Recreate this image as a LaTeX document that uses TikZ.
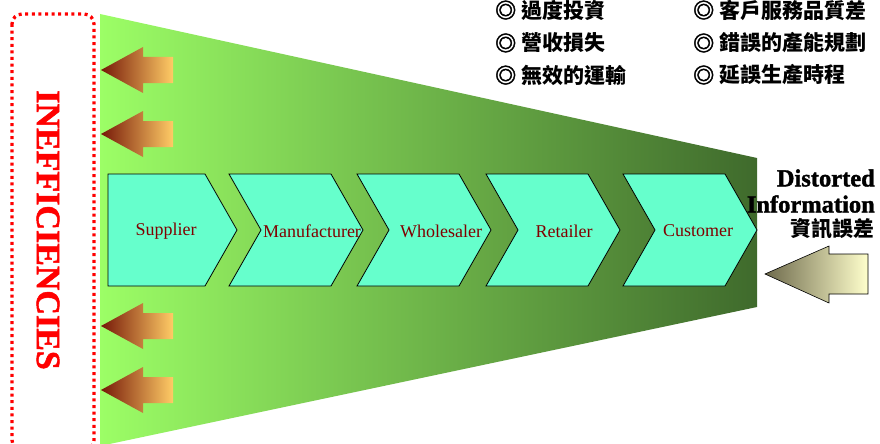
\documentclass[tikz,border=0pt]{standalone}
\usepackage{fontspec}
\setmainfont{Liberation Serif}
\newfontfamily\heavy{Liberation Serif Bold}[FakeBold=1.5]
\newfontfamily\cjk{Noto Sans CJK TC}
\newfontfamily\cjkheavy{Noto Sans CJK TC Bold}[FakeBold=2]
\definecolor{funL}{HTML}{9CFE66}
\definecolor{funR}{HTML}{3F6A2C}
\definecolor{chevfill}{HTML}{66FFCC}
\definecolor{lbl}{HTML}{800000}
\definecolor{orL}{HTML}{761808}
\definecolor{orR}{HTML}{FFCC66}
\definecolor{arL}{HTML}{6E6A4C}
\definecolor{arR}{HTML}{FFFFCC}
\newcommand\bul{{\cjkheavy ◎}}
\begin{document}
\begin{tikzpicture}[x=1pt,y=-1pt,
  chevbox/.style={draw=black,line width=0.8pt,fill=chevfill,line join=miter},
  chevlbl/.style={text=lbl,font=\fontsize{18}{20}\selectfont,inner sep=0pt},
  listitem/.style={anchor=west,inner sep=0pt,font=\cjk\bfseries\fontsize{21}{23}\selectfont},
  orarrow/.style={left color=orL,right color=orR},
  ]
\useasboundingbox (0,0) rectangle (880,444);
\fill[white] (0,0) rectangle (880,444);
% funnel
\shade[left color=funL,right color=funR] (100,14) -- (757,158) -- (757,307) -- (100,446) -- cycle;
% inefficiencies box
\draw[red,line width=3.3pt,dash pattern=on 3pt off 3.6pt,rounded corners=10pt] (12,14) rectangle (94,450);
\node[rotate=-90,text=red,font=\heavy\fontsize{34}{36}\selectfont,inner sep=0pt] (ineff) at (48,230) {INEFFICIENCIES};
% orange arrows
\foreach \yy/\nm in {70/a1,134/a2,326/a3,390/a4}{
  \shade[orarrow] (101,\yy) -- (143,\yy-23) -- (143,\yy-13) -- (173,\yy-13) -- (173,\yy+13) -- (143,\yy+13) -- (143,\yy+23) -- cycle;
}
% chevrons
\draw[chevbox] (108,174) -- (205,174) -- (237,230) -- (205,286) -- (108,286) -- cycle;
\node[chevlbl] (sup) at (166,231) {Supplier};
\foreach \L/\txt/\cx/\nm in {229/Manufacturer/312/man,357/Wholesaler/441/who,486/Retailer/564/ret,623/Customer/698/cus}{
  \draw[chevbox] (\L,174) -- (\L+102,174) -- (\L+134,230) -- (\L+102,286) -- (\L,286) -- (\L+32,230) -- cycle;
  \node[chevlbl] (\nm) at (\cx,231) {\txt};
}
% distorted info
\node[anchor=east,inner sep=0pt,font=\heavy\fontsize{24.5}{26}\selectfont] (dist) at (875,178) {Distorted};
\node[anchor=east,inner sep=0pt,font=\heavy\fontsize{24.5}{26}\selectfont] (info) at (875,204) {Information};
\node[anchor=east,inner sep=0pt,font=\cjk\bfseries\fontsize{21}{23}\selectfont] (zh) at (875,229) {資訊誤差};
\shadedraw[left color=arL,right color=arR,draw=black,line width=0.6pt] (765,274) -- (829,246) -- (829,254) -- (868,254) -- (868,294) -- (829,294) -- (829,303) -- cycle;
% list
\node[listitem] (l1) at (495,10) {\bul{} 過度投資};
\node[listitem] (l2) at (495,43) {\bul{} 營收損失};
\node[listitem] (l3) at (495,75) {\bul{} 無效的運輸};
\node[listitem] (r1) at (693,10) {\bul{} 客戶服務品質差};
\node[listitem] (r2) at (693,43) {\bul{} 錯誤的產能規劃};
\node[listitem] (r3) at (693,75) {\bul{} 延誤生產時程};
\end{tikzpicture}
\end{document}
